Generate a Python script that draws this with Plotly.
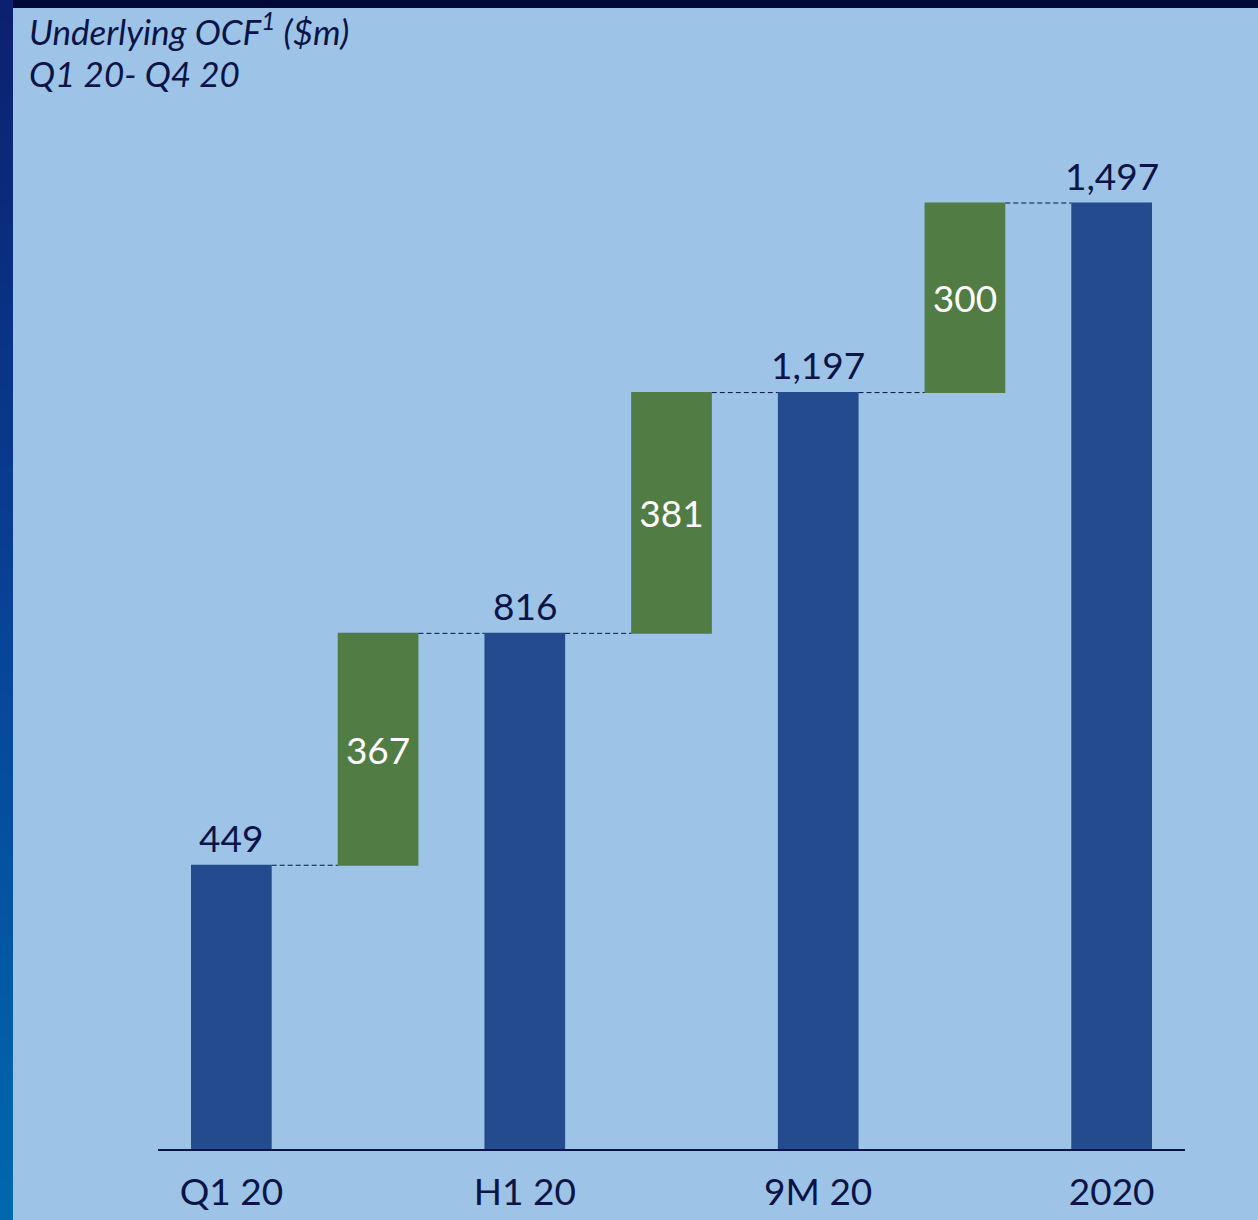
import plotly.graph_objects as go

# Underlying operating cash flow bridge, $m
categories = ["Q1 20", "Q2 20", "H1 20", "Q3 20", "9M 20", "Q4 20", "2020"]
axis_labels = ["Q1 20", "", "H1 20", "", "9M 20", "", "2020"]
measures = ["absolute", "relative", "total", "relative", "total", "relative", "total"]
step_values = [449, 367, 0, 381, 0, 300, 0]

W, H = 1258, 1220
M_L, M_R, M_T, M_B = 158, 73, 100, 71
PLOT_W = W - M_L - M_R
PLOT_H = H - M_T - M_B

NAVY = "#0b1447"
BLUE = "#234b8d"
GREEN = "#517c44"
BG = "#9dc3e6"
FONT = "Lato"

x_pos = list(range(len(categories)))

# running totals for the labels above the blue bars
running = []
acc = 0
for m, v in zip(measures, step_values):
    if m == "absolute":
        acc = v
    elif m == "relative":
        acc += v
    running.append(acc)

step_text = [f"{v:,}" for v in step_values]
step_textpos = ["inside" if m == "relative" else "none" for m in measures]

fig = go.Figure()
fig.add_trace(go.Waterfall(
    x=x_pos,
    y=step_values,
    measure=measures,
    text=step_text,
    textposition=step_textpos,
    insidetextanchor="middle",
    textangle=0,
    constraintext="none",
    insidetextfont=dict(family=FONT, size=37, color="white"),
    increasing=dict(marker=dict(color=GREEN, line=dict(width=0))),
    decreasing=dict(marker=dict(color=GREEN, line=dict(width=0))),
    totals=dict(marker=dict(color=BLUE, line=dict(width=0))),
    connector=dict(mode="between", line=dict(color=NAVY, width=1, dash="5px,3px")),
    hoverinfo="skip",
    showlegend=False,
))


def px_x(px):
    return (px - M_L) / PLOT_W


def px_y(py):
    return (H - M_B - py) / PLOT_H


annotations = []
for i, (m, tot) in enumerate(zip(measures, running)):
    if m != "relative":
        annotations.append(dict(
            x=i, y=tot, xref="x", yref="y", text=f"{tot:,}", showarrow=False,
            yanchor="middle", yshift=28,
            font=dict(family=FONT, size=37, color=NAVY),
        ))

annotations += [
    dict(x=px_x(27), y=px_y(29), xref="paper", yref="paper",
         text="<i>Underlying OCF<sup>1</sup> ($m)</i>", showarrow=False,
         xanchor="left", yanchor="middle",
         font=dict(family=FONT, size=35, color=NAVY)),
    dict(x=px_x(27), y=px_y(73), xref="paper", yref="paper",
         text="<i>Q1 20- Q4 20</i>", showarrow=False,
         xanchor="left", yanchor="middle",
         font=dict(family=FONT, size=35, color=NAVY)),
]

# slide frame: dark top rule and a vertical gradient strip on the left
shapes = [dict(type="rect", xref="paper", yref="paper",
               x0=px_x(11), x1=px_x(W), y0=px_y(0), y1=px_y(8),
               fillcolor="#000838", line=dict(width=0), layer="above")]
top_rgb = (12, 32, 112)
mid_rgb = (8, 66, 150)
bot_rgb = (0, 104, 173)
n_strips = 60
for k in range(n_strips):
    t = k / (n_strips - 1)
    if t < 0.5:
        a, b, u = top_rgb, mid_rgb, t / 0.5
    else:
        a, b, u = mid_rgb, bot_rgb, (t - 0.5) / 0.5
    c = tuple(round(a[j] + (b[j] - a[j]) * u) for j in range(3))
    y_top = H * k / n_strips
    y_bot = H * (k + 1) / n_strips + 1
    shapes.append(dict(type="rect", xref="paper", yref="paper",
                       x0=px_x(0), x1=px_x(13), y0=px_y(y_bot), y1=px_y(y_top),
                       fillcolor=f"rgb{c}", line=dict(width=0), layer="above"))

tick_vals = [x for x, lab in zip(x_pos, axis_labels) if lab]
tick_text = [lab for lab in axis_labels if lab]

fig.update_layout(
    width=W, height=H,
    margin=dict(l=M_L, r=M_R, t=M_T, b=M_B, pad=0),
    paper_bgcolor=BG, plot_bgcolor=BG,
    waterfallgap=0.45,
    xaxis=dict(
        range=[-0.5, 6.5], tickmode="array", tickvals=tick_vals, ticktext=tick_text,
        showgrid=False, zeroline=False, showline=True, linecolor=NAVY, linewidth=2,
        ticks="outside", ticklen=10, tickcolor="rgba(0,0,0,0)", automargin=False,
        tickfont=dict(family=FONT, size=37, color=NAVY), fixedrange=True,
    ),
    yaxis=dict(range=[0, 1660], visible=False, fixedrange=True, automargin=False),
    annotations=annotations,
    shapes=shapes,
)

fig.write_html("out.html", config={"displayModeBar": False})
